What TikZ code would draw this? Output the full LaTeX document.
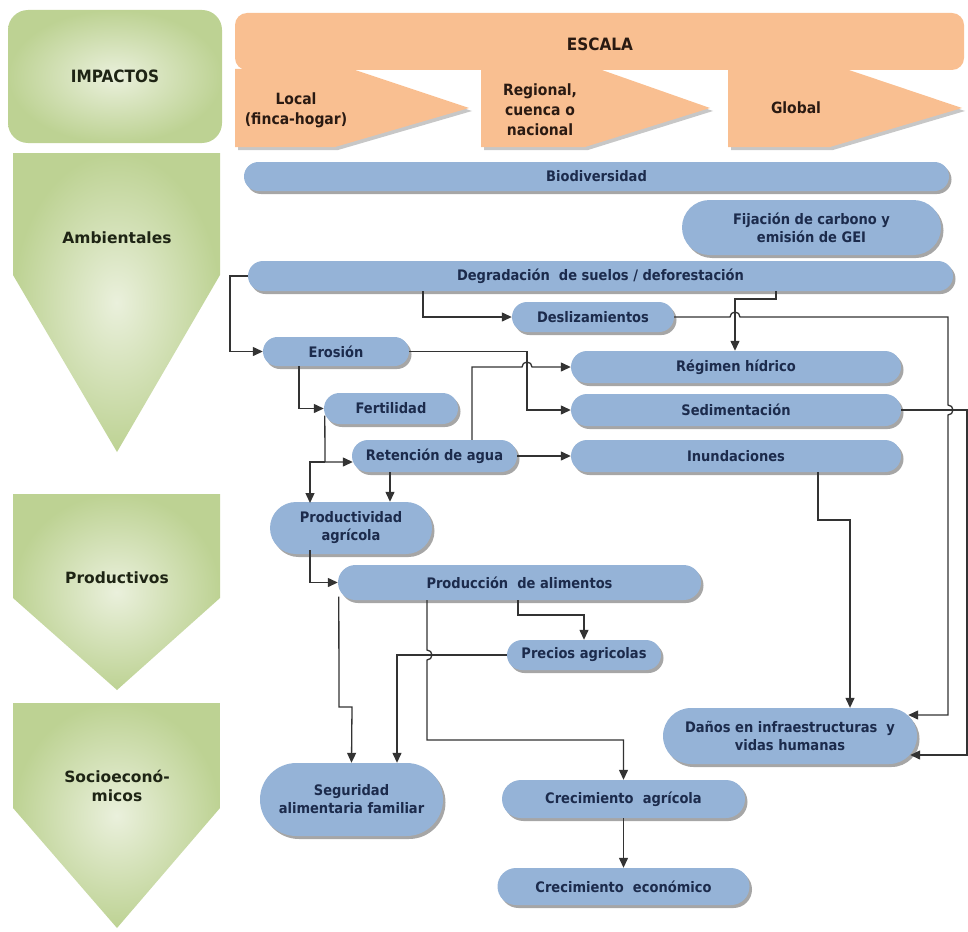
\documentclass[tikz,border=0pt]{standalone}
\usepackage{fontspec}
\setmainfont{DejaVu Sans Condensed}
\newfontfamily\widefont{DejaVu Sans}
\usepackage{xcolor}
\usetikzlibrary{arrows.meta,positioning,shapes.misc,shadows,calc}
\definecolor{boxblue}{HTML}{95B3D7}
\definecolor{navytxt}{HTML}{1C2B4C}
\definecolor{peach}{HTML}{F9BF91}
\definecolor{esctxt}{HTML}{2A1A12}
\definecolor{grnin}{HTML}{EAF0DC}
\definecolor{grnout}{HTML}{BDD293}
\definecolor{grntxt}{HTML}{1E2414}
\definecolor{linegray}{HTML}{333333}

\begin{document}
\begin{tikzpicture}[x=1pt, y=-1pt,
    pill/.style={rounded rectangle, fill=boxblue, text=navytxt, align=center, inner sep=0pt,
                 font=\bfseries\fontsize{14.5}{18}\selectfont,
                 drop shadow={shadow xshift=2.5pt, shadow yshift=-3pt, opacity=0.35, fill=black}},
    grnbox/.style={inner color=grnin, outer color=grnout},
    grnlabel/.style={font=\widefont\bfseries\fontsize{15.5}{19}\selectfont, text=grntxt, align=center},
    esclabel/.style={font=\bfseries\fontsize{15.5}{20}\selectfont, text=esctxt, align=center},
    arr/.style={draw=linegray, line width=1.3pt, -{Triangle[length=10pt,width=9pt]}}
]
\useasboundingbox (0,0) rectangle (968,931);

% --- Left column: impact types ---
\node[grnbox, rounded corners=20pt, minimum width=214, minimum height=133,
      font=\bfseries\fontsize{17}{20}\selectfont, text=grntxt] (impactos) at (115,76.5) {IMPACTOS};
\shade[grnbox] (13,153) -- (220,153) -- (220,275) -- (117,452) -- (13,275) -- cycle;
\shade[grnbox] (13,494) -- (220,494) -- (220,598) -- (117,690) -- (13,598) -- cycle;
\shade[grnbox] (13,703) -- (220,703) -- (220,808) -- (117,928) -- (13,808) -- cycle;
\node[grnlabel] (amb) at (117,238) {Ambientales};
\node[grnlabel] (prodv) at (117,578) {Productivos};
\node[grnlabel] (socio) at (117,786) {Socioeconó-\\micos};

% --- Scale header ---
\foreach \l/\s/\t/\b in {235/352/469/335, 481/599/710/585, 728/846/962/830}
    \fill[black, opacity=0.22] (\l+3,73) -- (\s+3,73) -- (\t+3,111) -- (\b+3,150) -- (\l+3,150) -- cycle;
\fill[peach, rounded corners=12pt] (235,70) rectangle (964,13);
\foreach \l/\s/\t/\b in {235/352/469/335, 481/599/710/585, 728/846/962/830}
    \fill[peach] (\l,69) -- (\s,69) -- (\t,108) -- (\b,147) -- (\l,147) -- cycle;
\node[esclabel, font=\bfseries\fontsize{17}{20}\selectfont] (escala) at (600,44) {ESCALA};
\node[esclabel] (local) at (296,110) {Local\\(finca-hogar)};
\node[esclabel] (regional) at (540,110) {Regional,\\cuenca o\\nacional};
\node[esclabel] (global) at (796,108) {Global};

% --- Environmental boxes ---
\node[pill, minimum width=705, minimum height=29] (bio) at (596.5,176.5) {Biodiversidad};
\node[pill, minimum width=259, minimum height=55] (fij) at (811.5,227.5) {Fijación de carbono y\\emisión de GEI};
\node[pill, minimum width=705, minimum height=30] (degr) at (600.5,276) {Degradación\ \ de suelos / deforestación};
\node[pill, minimum width=162, minimum height=30] (desl) at (593,317) {Deslizamientos};
\node[pill, minimum width=146, minimum height=29] (eros) at (336,351.5) {Erosión};
\node[pill, minimum width=330, minimum height=32] (regim) at (736,367) {Régimen hídrico};
\node[pill, minimum width=134, minimum height=31] (fert) at (391,408.5) {Fertilidad};
\node[pill, minimum width=330, minimum height=32] (sedim) at (736,410) {Sedimentación};
\node[pill, minimum width=165, minimum height=32] (reten) at (434.5,456) {Retención de agua};
\node[pill, minimum width=330, minimum height=32] (inund) at (736,456) {Inundaciones};

% --- Productive boxes ---
\node[pill, minimum width=162, minimum height=52] (prodag) at (351,528) {Productividad\\agrícola};
\node[pill, minimum width=363, minimum height=35] (prodal) at (519.5,582.5) {Producción\ \ de alimentos};
\node[pill, minimum width=154, minimum height=30] (precios) at (584,655) {Precios agricolas};

% --- Socioeconomic boxes ---
\node[pill, minimum width=254, minimum height=56] (danos) at (790,736) {Daños en infraestructuras\ \ y\\vidas humanas};
\node[pill, minimum width=183, minimum height=73] (segur) at (351.5,799.5) {Seguridad\\alimentaria familiar};
\node[pill, minimum width=243, minimum height=38] (crecag) at (623.5,799) {Crecimiento\ \ agrícola};
\node[pill, minimum width=252, minimum height=37] (crececo) at (623.5,886.5) {Crecimiento\ \ económico};

% --- Connectors ---
\coordinate (fertj) at (325,462);
\draw[arr] (degr.west) -- (230,276) |- (eros.west);
\draw[arr] (423,0 |- degr.south) |- (desl.west);
\draw[arr] (776,0 |- degr.south) -- (776,299) -- (735,299) -- (735,0 |- regim.north);
\draw[arr] (desl.east) -- (730,317) arc[start angle=180, end angle=0, radius=5pt]
    -- (948,317) -- (948,405) arc[start angle=90, end angle=-90, radius=5pt]
    -- (948,715) -- ($(danos.east)+(-9,-21)$);
\draw[arr] (sedim.east) -- (967,410) -- (967,755) -- ($(danos.east)+(-7,19)$);
\draw[arr] (eros.east) -| (527,390) |- (sedim.west);
\draw[arr] (472,0 |- reten.north) -- (472,367) -- (522,367)
    arc[start angle=180, end angle=0, radius=5pt] -- (regim.west);
\draw[arr] (reten.east) -- (inund.west);
\draw[arr] (299,0 |- eros.south) |- (fert.west);
\draw[arr] ($(fert.west)+(1,7)$) -- (fertj) -- ($(reten.west)+(1,6)$);
\draw[arr] (fertj) -- (310,462) -- (310,503);
\draw[arr] (390,0 |- reten.south) -- (390,0 |- prodag.north);
\draw[arr] (310,550) |- (prodal.west);
\draw[arr] ($(prodal.west)+(1,14)$) -- (339,707) -- (352,707) -- (segur.north);
\draw[arr] (precios.west) -- (397,655) -- (397,0 |- segur.north);
\draw[arr] (427,0 |- prodal.south) -- (427,650) arc[start angle=90, end angle=-90, radius=5pt]
    -- (427,740) -| (crecag.north);
\draw[arr] (518,0 |- prodal.south) -- (518,615) -| (precios.north);
\draw[arr] (818,0 |- inund.south) -- (818,520) -| (850,0 |- danos.north);
\draw[arr] (crecag.south) -- (crececo.north);

\end{tikzpicture}
\end{document}
